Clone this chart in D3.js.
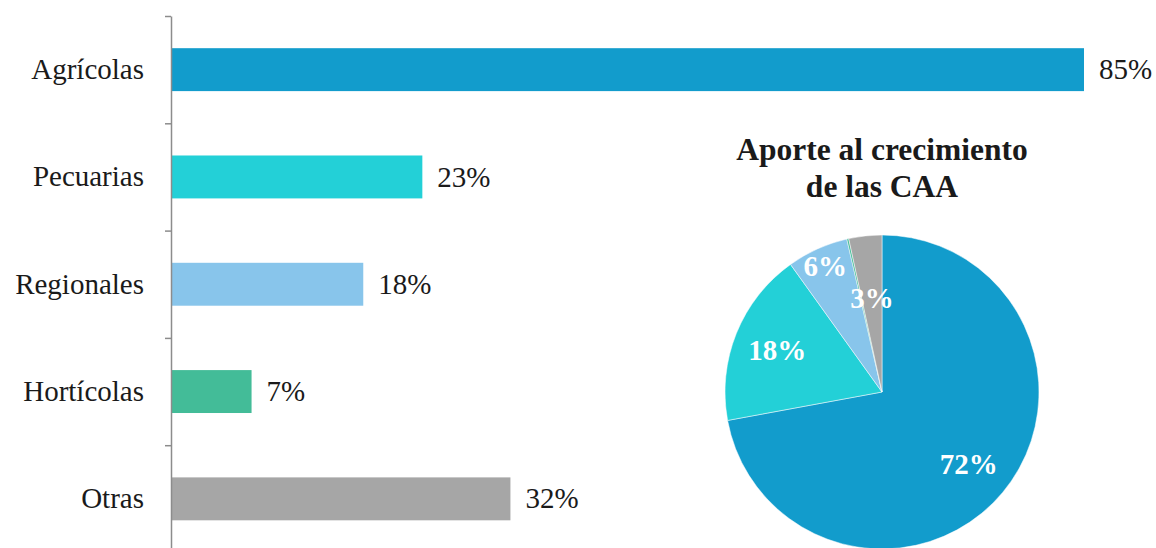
<!DOCTYPE html>
<html>
<head>
<meta charset="utf-8">
<script src="https://cdnjs.cloudflare.com/ajax/libs/d3/7.8.5/d3.min.js"></script>
<style>
  body { margin: 0; background: #fff; }
  text { font-family: "Liberation Serif", "DejaVu Serif", serif; }
</style>
</head>
<body>
<div id="chart"></div>
<script>
// bar data: growth by chain group
var categories = ["Agrícolas", "Pecuarias", "Regionales", "Hortícolas", "Otras"];
var barValues = [85, 23.4, 17.9, 7.5, 31.6];
var barLabels = ["85%", "23%", "18%", "7%", "32%"];
var colors = ["#129ccc", "#23d0d7", "#88c5eb", "#43bc98", "#a6a6a6"];

// pie data: contribution to growth
var pieTitle = ["Aporte al crecimiento", "de las CAA"];
var pieValues = [72.1, 18, 6.3, 0.2, 3.4];
var pieLabels = ["72%", "18%", "6%", "", "3%"];
// label distance from the centre, as a share of the radius
var labelRadius = [0.72, 0.72, 0.88, 0.72, 0.6];

var w = 1156, h = 548;

var svg = d3.select("#chart").append("svg")
    .attr("width", w)
    .attr("height", h);

// scales
var xScale = d3.scaleLinear()
    .domain([0, 85])
    .range([171, 1084]);

var yScale = d3.scaleBand()
    .domain(categories)
    .range([16, 552.5])
    .paddingInner(0.6)
    .paddingOuter(0.3);

// index scale for the ticks between categories
var yEdge = d3.scaleLinear()
    .domain([0, categories.length])
    .range([16, 552.5]);

// bars
svg.selectAll("rect.bar")
    .data(barValues)
    .enter()
    .append("rect")
    .attr("class", "bar")
    .attr("x", xScale(0))
    .attr("y", function (d, i) { return yScale(categories[i]); })
    .attr("width", function (d) { return xScale(d) - xScale(0); })
    .attr("height", yScale.bandwidth())
    .attr("fill", function (d, i) { return colors[i]; });

// value labels
svg.selectAll("text.val")
    .data(barValues)
    .enter()
    .append("text")
    .attr("class", "val")
    .attr("x", function (d) { return xScale(d) + 15; })
    .attr("y", function (d, i) { return yScale(categories[i]) + yScale.bandwidth() / 2; })
    .attr("dy", "0.33em")
    .attr("font-size", "29px")
    .attr("fill", "#1a1a1a")
    .text(function (d, i) { return barLabels[i]; });

// axis line with ticks between categories
var edgeAxis = d3.axisLeft(yEdge)
    .tickValues(d3.range(0, categories.length))
    .tickFormat("")
    .tickSize(6)
    .tickSizeOuter(0);

var gAxis = svg.append("g")
    .attr("transform", "translate(" + xScale(0) + ",0)")
    .call(edgeAxis);
gAxis.selectAll("path, line")
    .attr("stroke", "#8c8c8c")
    .attr("stroke-width", 1.5);

// category labels
var catAxis = d3.axisLeft(yScale).tickSize(0).tickPadding(27);
var gCat = svg.append("g")
    .attr("transform", "translate(" + xScale(0) + ",0)")
    .call(catAxis);
gCat.select(".domain").remove();
gCat.selectAll("text")
    .attr("font-family", "Liberation Serif, serif")
    .attr("font-size", "29px")
    .attr("fill", "#1a1a1a");

// pie
var cx = 882, cy = 392, r = 157;

var pie = d3.pie().sort(null).value(function (d) { return d; });
var arc = d3.arc().innerRadius(0).outerRadius(r);

var gPie = svg.append("g")
    .attr("transform", "translate(" + cx + "," + cy + ")");

var arcs = pie(pieValues);

gPie.selectAll("path")
    .data(arcs)
    .enter()
    .append("path")
    .attr("d", arc)
    .attr("fill", function (d, i) { return colors[i]; })
    .attr("stroke", "#fff")
    .attr("stroke-width", 0.5);

gPie.selectAll("text")
    .data(arcs)
    .enter()
    .append("text")
    .attr("transform", function (d, i) {
        var lr = r * labelRadius[i];
        var c = d3.arc().innerRadius(lr).outerRadius(lr).centroid(d);
        return "translate(" + c + ")";
    })
    .attr("text-anchor", "middle")
    .attr("dy", "0.35em")
    .attr("font-size", "29px")
    .attr("font-weight", "bold")
    .attr("fill", "#fff")
    .text(function (d, i) { return pieLabels[i]; });

// pie title
svg.append("text")
    .attr("x", cx)
    .attr("y", 160)
    .attr("text-anchor", "middle")
    .attr("font-size", "31.5px")
    .attr("font-weight", "bold")
    .attr("fill", "#1a1a1a")
    .selectAll("tspan")
    .data(pieTitle)
    .enter()
    .append("tspan")
    .attr("x", cx)
    .attr("dy", function (d, i) { return i === 0 ? 0 : 37; })
    .text(function (d) { return d; });
</script>
</body>
</html>
